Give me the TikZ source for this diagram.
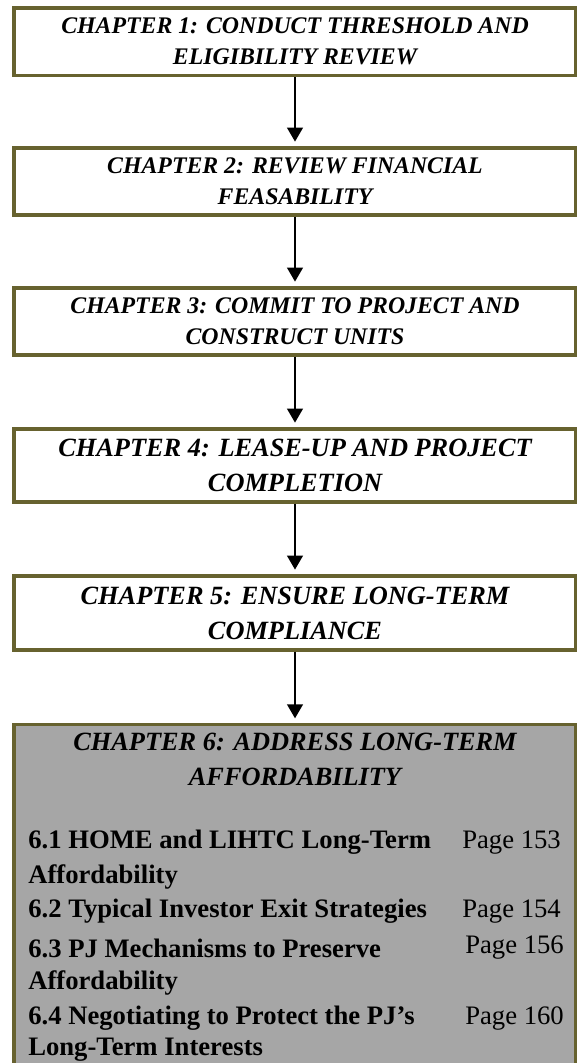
\documentclass[tikz,border=0pt]{standalone}
\usepackage{fontspec}
\setmainfont{Liberation Serif}
\usetikzlibrary{arrows.meta}
\definecolor{olive}{RGB}{103,98,47}
\definecolor{boxgray}{RGB}{166,166,166}
\tikzset{
  chap/.style={draw=olive, line width=2.6pt, fill=white, minimum width=421.5pt,
    inner sep=0pt, align=center, font=\fontsize{17.85}{23.25}\selectfont\bfseries\itshape},
  chapb/.style={chap, font=\fontsize{19.75}{26.25}\selectfont\bfseries\itshape},
  flow/.style={line width=1.5pt, -{Triangle[width=11.8pt,length=10.5pt]}, shorten >=3.5pt},
  item/.style={anchor=west, inner sep=0pt, font=\fontsize{20}{24}\selectfont\bfseries},
  page/.style={anchor=west, inner sep=0pt, font=\fontsize{20}{24}\selectfont},
}
\begin{document}
\begin{tikzpicture}[x=0.75pt, y=-0.75pt]
\useasboundingbox (0,0) rectangle (577,1063);
\clip (0,0) rectangle (577,1063);
\node[chap, minimum height=50.6pt] (b1) at (295,41.75) {CHAPTER 1: CONDUCT THRESHOLD AND\\ELIGIBILITY REVIEW};
\node[chap, minimum height=50.2pt] (b2) at (295,181.5) {CHAPTER 2: REVIEW FINANCIAL\\FEASABILITY};
\node[chap, minimum height=50.2pt] (b3) at (295,321.5) {CHAPTER 3: COMMIT TO PROJECT AND\\CONSTRUCT UNITS};
\node[chapb, minimum height=54.7pt] (b4) at (295,465.5) {CHAPTER 4: LEASE-UP AND PROJECT\\COMPLETION};
\node[chapb, minimum height=55.5pt] (b5) at (295,613) {CHAPTER 5: ENSURE LONG-TERM\\COMPLIANCE};
\node[draw=olive, line width=2.6pt, fill=boxgray, minimum width=421.5pt, minimum height=270pt,
  inner sep=0pt, anchor=north] (b6) at (295,723) {};
\node[align=center, inner sep=0pt, font=\fontsize{19.75}{26.25}\selectfont\bfseries\itshape] (h6) at (295,759.5)
  {CHAPTER 6: ADDRESS LONG-TERM\\AFFORDABILITY};
\node[item] (i1) at (28,842.5) {6.1 HOME and LIHTC Long-Term};
\node[item] (i1b) at (28,876.5) {Affordability};
\node[item] (i2) at (28,911.5) {6.2 Typical Investor Exit Strategies};
\node[item] (i3) at (28,948) {6.3 PJ Mechanisms to Preserve};
\node[item] (i3b) at (28,983) {Affordability};
\node[item] (i4) at (28,1018) {6.4 Negotiating to Protect the PJ’s};
\node[item] (i4b) at (28,1050) {Long-Term Interests};
\node[page] (p1) at (462,842.5) {Page 153};
\node[page] (p2) at (462,911.5) {Page 154};
\node[page] (p3) at (465,948) {Page 156};
\node[page] (p4) at (465,1018) {Page 160};
\draw[flow] (b1.south) -- (b2.north);
\draw[flow] (b2.south) -- (b3.north);
\draw[flow] (b3.south) -- (b4.north);
\draw[flow] (b4.south) -- (b5.north);
\draw[flow] (b5.south) -- (b6.north);
\end{tikzpicture}
\end{document}
